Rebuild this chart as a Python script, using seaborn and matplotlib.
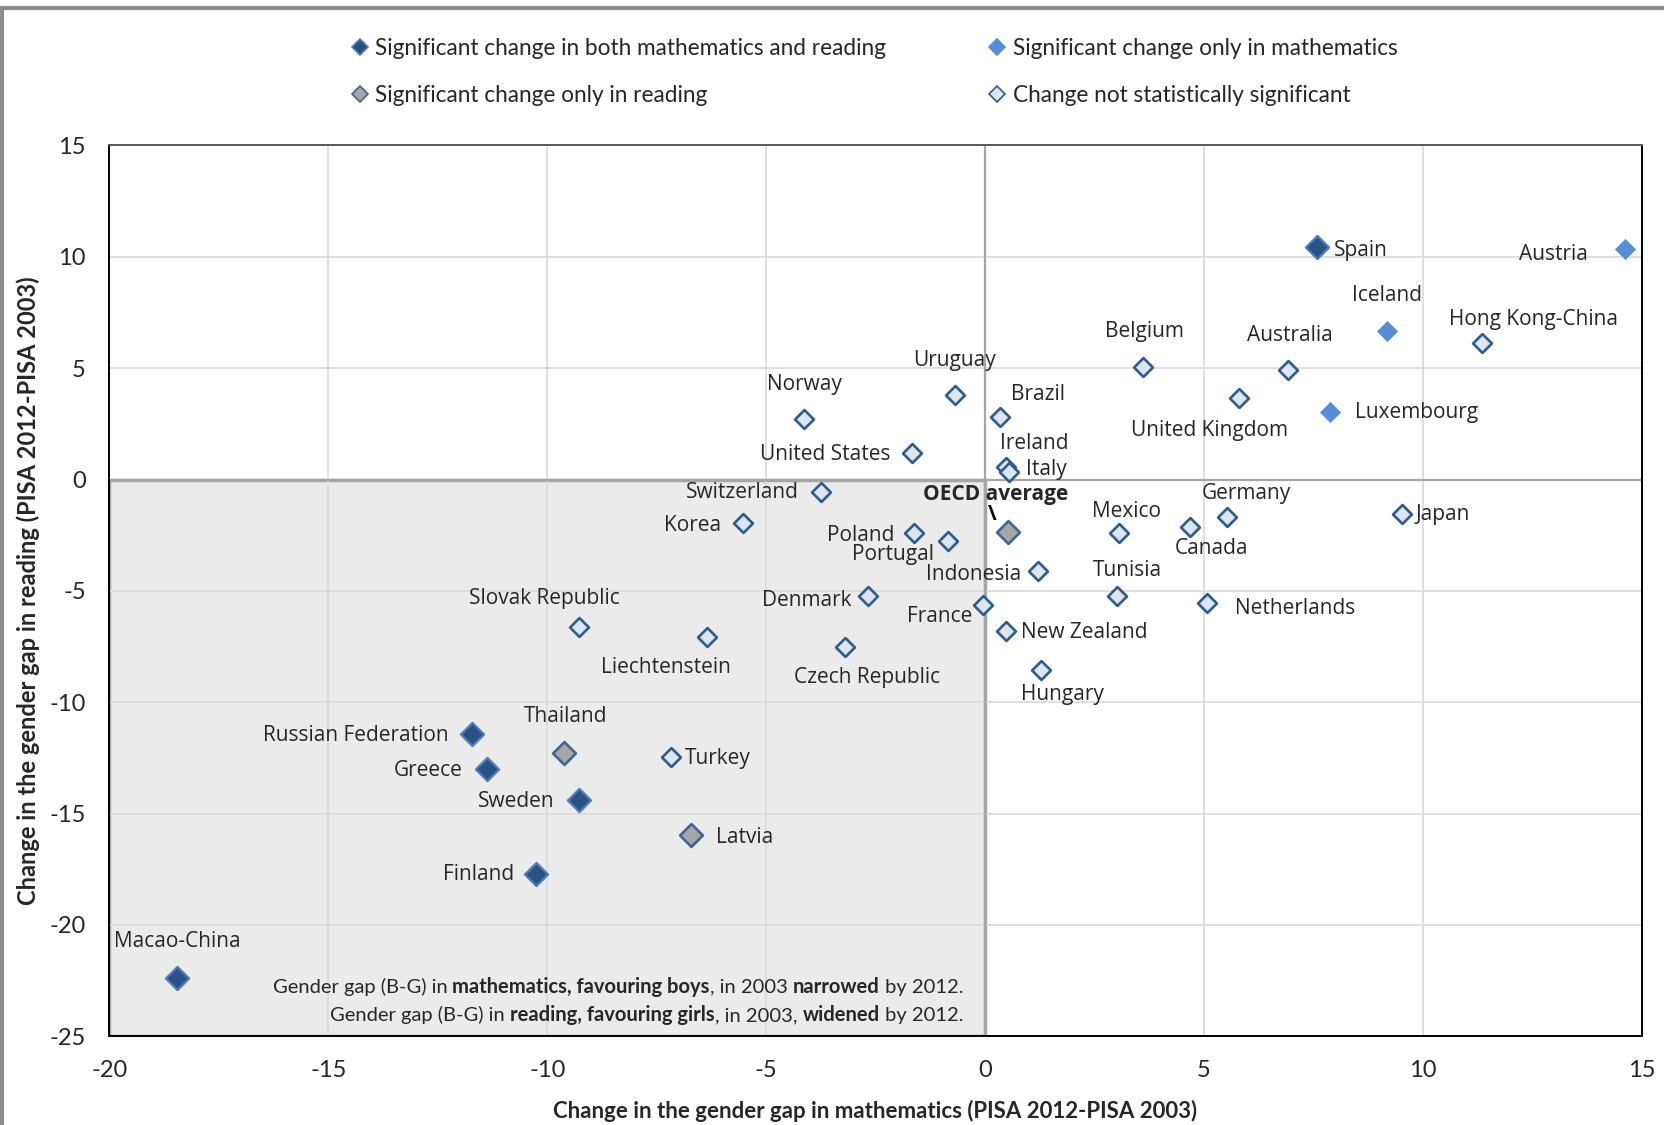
import matplotlib
matplotlib.use("Agg")
import matplotlib.pyplot as plt
from matplotlib.lines import Line2D
from matplotlib.patches import Rectangle
from matplotlib.offsetbox import TextArea, HPacker, VPacker, AnnotationBbox
import seaborn as sns
import pandas as pd

# ---- data (PISA 2012 - PISA 2003) ----
countries = [
    "Spain", "Austria", "Iceland", "Hong Kong-China", "Belgium", "Australia",
    "United Kingdom", "Luxembourg", "Uruguay", "Norway", "Brazil",
    "United States", "Ireland", "Italy", "Switzerland", "Korea", "Poland",
    "Portugal", "OECD average", "Mexico", "Canada", "Germany", "Japan",
    "Indonesia", "Tunisia", "Netherlands", "Denmark", "France", "New Zealand",
    "Hungary", "Slovak Republic", "Liechtenstein", "Czech Republic",
    "Russian Federation", "Thailand", "Turkey", "Greece", "Sweden", "Latvia",
    "Finland", "Macao-China",
]
math_change = [
    7.58, 14.63, 9.18, 11.36, 3.60, 6.92,
    5.81, 7.89, -0.69, -4.14, 0.35,
    -1.66, 0.49, 0.54, -3.75, -5.52, -1.62,
    -0.84, 0.52, 3.07, 4.69, 5.52, 9.52,
    1.22, 3.02, 5.08, -2.68, -0.04, 0.49,
    1.27, -9.28, -6.35, -3.19,
    -11.71, -9.62, -7.17, -11.37, -9.28, -6.71,
    -10.25, -18.45,
]
reading_change = [
    10.42, 10.33, 6.66, 6.13, 5.04, 4.90,
    3.66, 3.04, 3.80, 2.70, 2.80,
    1.18, 0.56, 0.32, -0.54, -1.97, -2.40,
    -2.78, -2.35, -2.40, -2.11, -1.68, -1.54,
    -4.11, -5.21, -5.54, -5.21, -5.64, -6.78,
    -8.55, -6.64, -7.07, -7.50,
    -11.41, -12.26, -12.45, -12.98, -14.41, -15.98,
    -17.70, -22.37,
]
# B = both, M = only maths, R = only reading, N = not significant
significance = [
    "B", "M", "M", "N", "N", "N",
    "N", "M", "N", "N", "N",
    "N", "N", "N", "N", "N", "N",
    "N", "R", "N", "N", "N", "N",
    "N", "N", "N", "N", "N", "N",
    "N", "N", "N", "N",
    "B", "R", "N", "B", "B", "R",
    "B", "B",
]

legend_labels = {
    "B": "Significant change in both mathematics and reading",
    "M": "Significant change only in mathematics",
    "R": "Significant change only in reading",
    "N": "Change not statistically significant",
}

df = pd.DataFrame({"country": countries, "math": math_change,
                   "reading": reading_change, "sig": significance})

# marker styles per group: fill, edge, edge width, size
styles = {
    "N": dict(color="#DCE6F2", edgecolor="#2F5A8E", linewidth=1.9, s=92),
    "R": dict(color="#A6A6A6", edgecolor="#3F6596", linewidth=1.9, s=135),
    "M": dict(color="#558ED5", edgecolor="#558ED5", linewidth=0.5, s=105),
    "B": dict(color="#2A5286", edgecolor="#4F7DB8", linewidth=1.6, s=140),
}

# label placement (ha, dx, dy) in reference pixels, dy pointing down
label_pos = {
    "Spain": ("left", 16, 3), "Austria": ("center", -68, 5),
    "Iceland": ("center", 0, -34), "Hong Kong-China": ("center", 48, -22),
    "Belgium": ("center", 2, -34), "Australia": ("center", 2, -33),
    "United Kingdom": ("center", -28, 31), "Luxembourg": ("left", 23, 1),
    "Uruguay": ("center", 0, -32), "Norway": ("center", 1, -33),
    "Brazil": ("left", 10, -21), "United States": ("right", -21, 1),
    "Ireland": ("center", 26, -22), "Italy": ("left", 16, -3),
    "Switzerland": ("right", -21, 1), "Korea": ("right", -21, 2),
    "Poland": ("right", -19, 2), "Portugal": ("right", -13, 12),
    "OECD average": ("center", -11, -35), "Mexico": ("center", 7, -20),
    "Canada": ("center", 20, 21), "Germany": ("center", 19, -22),
    "Japan": ("left", 13, 1), "Indonesia": ("center", -61, 3),
    "Tunisia": ("center", 10, -24), "Netherlands": ("left", 26, 5),
    "Denmark": ("right", -15, 5), "France": ("right", -10, 11),
    "New Zealand": ("left", 14, 2), "Hungary": ("center", 21, 23),
    "Slovak Republic": ("center", -32, -27),
    "Liechtenstein": ("center", -39, 29),
    "Czech Republic": ("center", 20, 29),
    "Russian Federation": ("right", -22, 2), "Thailand": ("center", 2, -34),
    "Turkey": ("left", 13, 2), "Greece": ("right", -23, 2),
    "Sweden": ("right", -23, 1), "Latvia": ("left", 23, 2),
    "Finland": ("right", -21, 1), "Macao-China": ("center", 0, -34),
}
PX = 1.0619 * 0.72  # reference pixel -> points

sns.set_theme(style="white")
narrow = ["Lato", "DejaVu Sans"]
wide = ["Open Sans", "DejaVu Sans"]
plt.rcParams["font.family"] = narrow
plt.rcParams["axes.unicode_minus"] = False
txt_col = "#262626"

fig = plt.figure(figsize=(16.65, 11.25), dpi=100)
ax = fig.add_axes([0.0657, 0.0788, 0.9203, 0.7919])

# shaded quadrant and reference lines
ax.add_patch(Rectangle((-20, -25), 20, 25, facecolor="#EBEBEB",
                       edgecolor="#A6A6A6", linewidth=2.5, zorder=0))
ax.axhline(0, color="#A6A6A6", lw=1.6, zorder=1)
ax.axvline(0, color="#A6A6A6", lw=1.6, zorder=1)

for g in ["N", "R", "M", "B"]:
    st = styles[g]
    sns.scatterplot(data=df[df["sig"] == g], x="math", y="reading",
                    marker="D", s=st["s"], color=st["color"],
                    edgecolor=st["edgecolor"], linewidth=st["linewidth"],
                    legend=False, zorder=3, ax=ax)

for name, x, y in zip(countries, math_change, reading_change):
    ha, dx, dy = label_pos[name]
    bold = name == "OECD average"
    ax.annotate(name, (x, y), xytext=(dx * PX, -dy * PX),
                textcoords="offset points", ha=ha, va="center",
                fontsize=15, family=wide, color=txt_col,
                fontweight="bold" if bold else "normal", zorder=4)
    if bold:
        ax.annotate("\\", (x, y), xytext=(-15 * PX, 16 * PX),
                    textcoords="offset points", ha="center", va="center",
                    fontsize=15, family=wide, color="black",
                    fontweight="bold", zorder=4)

# bottom-left note with mixed bold text
def note_line(parts):
    boxes = [TextArea(t, textprops=dict(fontsize=14.5, family=narrow,
                                         color=txt_col,
                                         fontweight="bold" if b else "normal"))
             for t, b in parts]
    return HPacker(children=boxes, align="baseline", pad=0, sep=0)

line1 = note_line([("Gender gap (B-G) in ", False),
                   ("mathematics, favouring boys", True),
                   (", in 2003 ", False), ("narrowed", True),
                   (" by 2012.", False)])
line2 = note_line([("Gender gap (B-G) in ", False),
                   ("reading, favouring girls", True),
                   (", in 2003, ", False), ("widened", True),
                   (" by 2012.", False)])
note = VPacker(children=[line1, line2], align="right", pad=0, sep=6)
ax.add_artist(AnnotationBbox(note, (-0.5, -23.4), xycoords="data",
                             box_alignment=(1, 0.5), frameon=False,
                             pad=0, zorder=5))

ax.set_xlim(-20, 15)
ax.set_ylim(-25, 15)
ax.set_xticks(range(-20, 16, 5))
ax.set_yticks(range(-25, 16, 5))
ax.grid(True, color="#D9D9D9", lw=1.2)
ax.set_axisbelow(True)
ax.tick_params(length=0, labelsize=17, colors=txt_col)
ax.tick_params(axis="x", pad=17)
ax.tick_params(axis="y", pad=17)
for sp in ax.spines.values():
    sp.set_color("black")
    sp.set_linewidth(1.4)
ax.spines["top"].set_color("#595959")

ax.set_xlabel("Change in the gender gap in mathematics (PISA 2012-PISA 2003)",
              fontsize=16, fontweight="bold", color=txt_col)
ax.set_ylabel("Change in the gender gap in reading (PISA 2012-PISA 2003)",
              fontsize=17, fontweight="bold", color=txt_col)
ax.xaxis.set_label_coords(0.5, -0.071)
ax.yaxis.set_label_coords(-0.045, 0.5)

# legend, two columns at the top
def handle(g, ms):
    st = styles[g]
    return Line2D([], [], marker="D", linestyle="", markersize=ms,
                  markerfacecolor=st["color"], markeredgecolor=st["edgecolor"],
                  markeredgewidth=1.2)

for keys, xpos in [(["B", "R"], 0.2105), (["M", "N"], 0.5935)]:
    leg = fig.legend([handle(k, 8.5) for k in keys],
                     [legend_labels[k] for k in keys],
                     loc="upper left", bbox_to_anchor=(xpos, 0.966),
                     frameon=False, fontsize=16.3, handlelength=0.8,
                     handletextpad=0.3, labelspacing=1.15,
                     borderpad=0, borderaxespad=0)
    for t in leg.get_texts():
        t.set_color(txt_col)

# figure border (top and left edges visible)
fig.patches.append(Rectangle((0.0012, -0.5), 2, 1.4925, transform=fig.transFigure,
                             fill=False, edgecolor="#8C8C8C", linewidth=3,
                             figure=fig))

fig.savefig("out.png", dpi=100, facecolor="white")
